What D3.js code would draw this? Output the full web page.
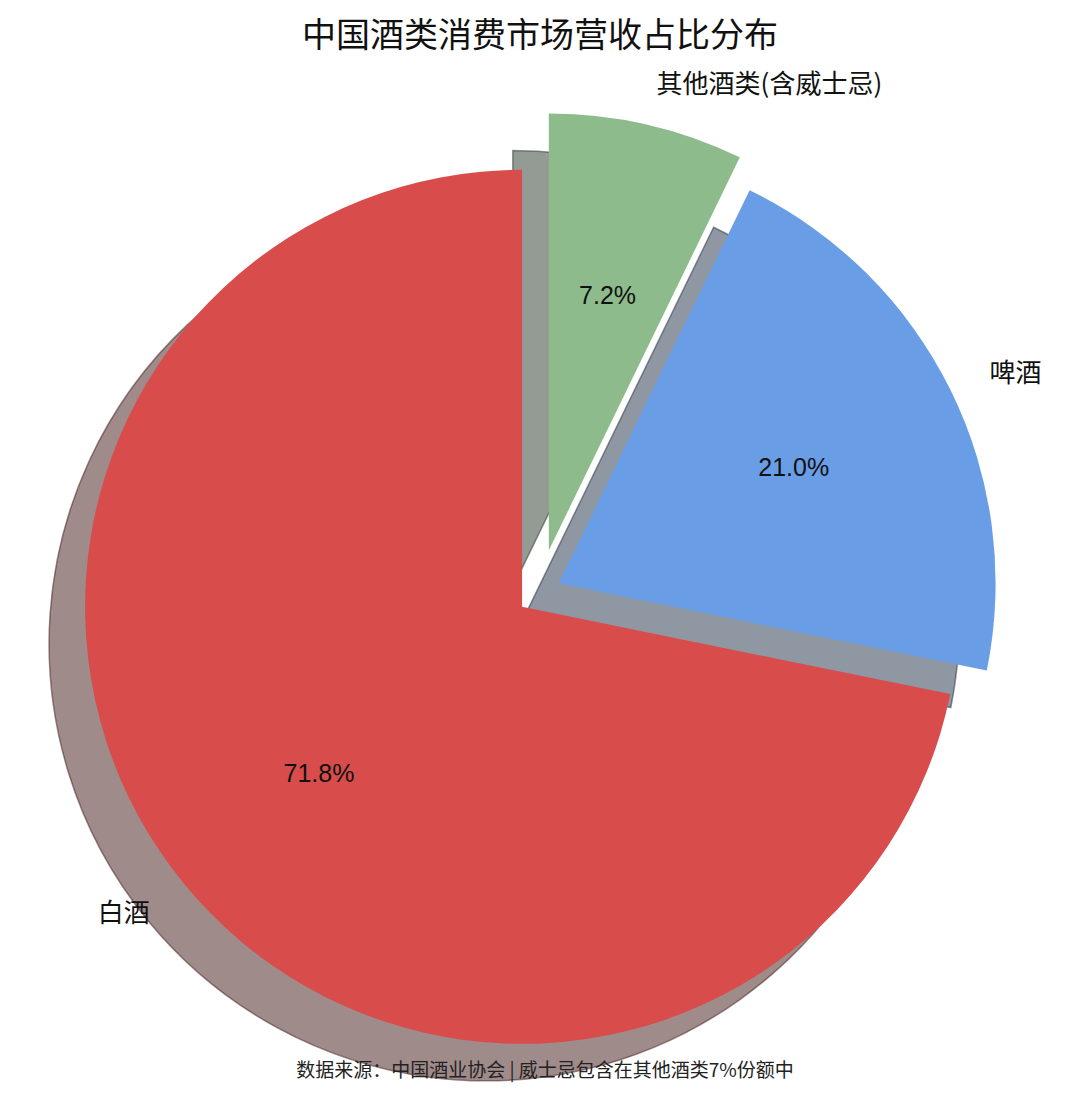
<!DOCTYPE html>
<html>
<head>
<meta charset="utf-8">
<script src="https://cdn.jsdelivr.net/npm/d3@7"></script>
<style>
  html, body { margin: 0; padding: 0; background: #fff; }
  svg { display: block; }
</style>
</head>
<body>
<div id="chart"></div>
<script>
const categories = ["白酒", "啤酒", "其他酒类(含威士忌)"]
const values = [71.8, 21.0, 7.2]
const explode = [0.05, 0.05, 0.1]
const colors = ["#d84c4b", "#699ee6", "#8dbb8c"]
const title = "中国酒类消费市场营收占比分布"
const footnote = "数据来源：中国酒业协会 | 威士忌包含在其他酒类7%份额中"

const width = 1080
const height = 1094
const cx = 539, cy = 593
const radius = 437
const shadowDx = -36, shadowDy = 37

const cjk = "'Noto Sans CJK SC', 'Noto Sans', sans-serif"
const latin = "'Liberation Sans', Arial, sans-serif"

const svg = d3.select("#chart")
  .append("svg")
  .attr("width", width)
  .attr("height", height)

// counterclockwise from 12 o'clock, like matplotlib startangle=90
const pie = d3.pie().sort(null).startAngle(0).endAngle(-2 * Math.PI)
const arcs = pie(values).map((d, i) => {
  const mid = (d.startAngle + d.endAngle) / 2
  const off = explode[i] * radius
  return { ...d, i, mid, ox: cx + off * Math.sin(mid), oy: cy - off * Math.cos(mid) }
})

const arc = d3.arc().innerRadius(0).outerRadius(radius)

// shadows under every wedge
const shadowColor = c => {
  const rgb = d3.rgb(c)
  return d3.rgb(rgb.r * 0.3, rgb.g * 0.3, rgb.b * 0.3).toString()
}
svg.append("g").selectAll("path")
  .data(arcs)
  .join("path")
  .attr("transform", d => `translate(${d.ox + shadowDx},${d.oy + shadowDy})`)
  .attr("d", arc)
  .attr("fill", d => shadowColor(colors[d.i]))
  .attr("fill-opacity", 0.5)
  .attr("stroke", d => shadowColor(colors[d.i]))
  .attr("stroke-opacity", 0.5)
  .attr("stroke-width", 1.5)

// wedges
svg.append("g").selectAll("path")
  .data(arcs)
  .join("path")
  .attr("transform", d => `translate(${d.ox},${d.oy})`)
  .attr("d", arc)
  .attr("fill", d => colors[d.i])

// percentages
svg.append("g").selectAll("text")
  .data(arcs)
  .join("text")
  .attr("x", d => d.ox + 0.6 * radius * Math.sin(d.mid))
  .attr("y", d => d.oy - 0.6 * radius * Math.cos(d.mid))
  .attr("text-anchor", "middle")
  .attr("dominant-baseline", "central")
  .attr("fill", "#111")
  .style("font-family", latin)
  .style("font-size", "25px")
  .text(d => d.data.toFixed(1) + "%")

// category labels
svg.append("g").selectAll("text")
  .data(arcs)
  .join("text")
  .attr("x", d => d.ox + 1.1 * radius * Math.sin(d.mid))
  .attr("y", d => d.oy - 1.1 * radius * Math.cos(d.mid))
  .attr("text-anchor", d => Math.sin(d.mid) > 0 ? "start" : "end")
  .attr("dominant-baseline", "central")
  .attr("fill", "#111")
  .style("font-family", cjk)
  .style("font-size", "26px")
  .text(d => categories[d.i])

svg.append("text")
  .attr("x", width / 2)
  .attr("y", 32)
  .attr("text-anchor", "middle")
  .attr("dominant-baseline", "central")
  .attr("fill", "#111")
  .style("font-family", cjk)
  .style("font-size", "34px")
  .text(title)

svg.append("text")
  .attr("x", 545)
  .attr("y", 1068)
  .attr("text-anchor", "middle")
  .attr("dominant-baseline", "central")
  .attr("fill", "#222")
  .style("font-family", cjk)
  .style("font-size", "19px")
  .text(footnote)
</script>
</body>
</html>
